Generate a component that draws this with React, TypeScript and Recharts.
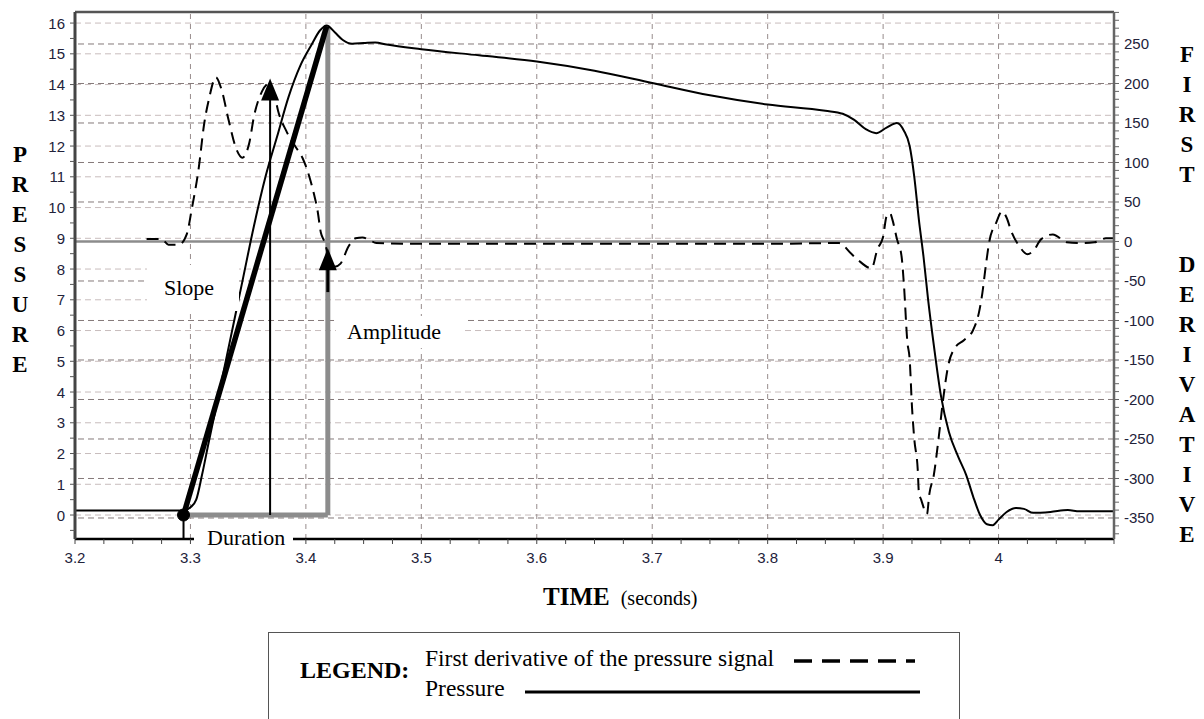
import React from "react";
import {
  ComposedChart,
  Line,
  XAxis,
  YAxis,
  ReferenceLine,
  ReferenceDot,
} from "recharts";

// pressure trace (time in s, pressure)
const pressureTime = [
  3.2, 3.25, 3.29, 3.295, 3.3, 3.305, 3.31, 3.316, 3.325, 3.335, 3.345, 3.355,
  3.365, 3.375, 3.385, 3.395, 3.405, 3.412, 3.418, 3.425, 3.432, 3.44, 3.45,
  3.46, 3.47, 3.5, 3.55, 3.6, 3.65, 3.7, 3.75, 3.8, 3.85, 3.865, 3.875, 3.885,
  3.894, 3.903, 3.912, 3.918, 3.923, 3.927, 3.931, 3.935, 3.939, 3.944, 3.95,
  3.957, 3.965, 3.972, 3.978, 3.984, 3.99, 3.995, 4.0, 4.007, 4.015, 4.022,
  4.03, 4.045, 4.06, 4.07, 4.1,
];
const pressureValue = [
  0.15, 0.15, 0.15, 0.15, 0.25, 0.5, 1.3, 2.4, 4.0, 5.8, 7.6, 9.4, 11.0, 12.3,
  13.6, 14.6, 15.3, 15.75, 15.92, 15.7, 15.45, 15.33, 15.35, 15.37, 15.3, 15.15,
  14.95, 14.75, 14.45, 14.05, 13.65, 13.35, 13.15, 13.05, 12.85, 12.55, 12.42,
  12.6, 12.75, 12.5, 12.0, 11.0, 9.6, 8.4, 7.0, 5.5, 3.9, 2.7, 1.9, 1.3, 0.6,
  0.0, -0.3, -0.33, -0.15, 0.1, 0.23, 0.2, 0.07, 0.1, 0.16, 0.12, 0.12,
];

// first derivative trace (time in s, derivative)
const derivTime = [
  3.262, 3.275, 3.281, 3.29, 3.297, 3.301, 3.307, 3.312, 3.316, 3.322, 3.327,
  3.333, 3.34, 3.345, 3.351, 3.355, 3.362, 3.368, 3.373, 3.376, 3.383, 3.391,
  3.397, 3.403, 3.407, 3.41, 3.413, 3.416, 3.42, 3.425, 3.43, 3.437, 3.443,
  3.449, 3.455, 3.461, 3.5, 3.6, 3.7, 3.8, 3.862, 3.872, 3.878, 3.89, 3.895,
  3.9, 3.903, 3.906, 3.908, 3.912, 3.916, 3.918, 3.921, 3.923, 3.925, 3.927,
  3.93, 3.931, 3.933, 3.938, 3.94, 3.944, 3.948, 3.952, 3.956, 3.962, 3.97,
  3.978, 3.983, 3.986, 3.989, 3.992, 3.998, 4.003, 4.007, 4.011, 4.018, 4.025,
  4.03, 4.037, 4.047, 4.059, 4.07, 4.083, 4.093, 4.1,
];
const derivValue = [
  3, 3, -4, -4, 10, 40, 91, 150, 180, 208, 192, 154, 116, 106, 125, 158, 190,
  200, 184, 165, 140, 120, 106, 82, 60, 40, 11, 0, -20, -32, -28, -6, 4, 5, 2,
  -2, -3, -3, -3, -3, -2, -15, -23, -34, -10, 6, 32, 36, 28, 3, -19, -54, -127,
  -149, -209, -250, -289, -318, -327, -345, -320, -295, -250, -200, -160, -135,
  -125, -112, -90, -65, -30, 0, 24, 38, 30, 13, -6, -16, -12, 3, 9, -1, -2, -1,
  4, 4,
];

// axis ranges and tick labels
const timeDomain = [3.2, 4.1];
const pressureDomain = [-0.78, 16.36];
const derivDomain = [-376.6, 290.5];
const timeLabels = [3.2, 3.3, 3.4, 3.5, 3.6, 3.7, 3.8, 3.9, 4.0];
const pressureLabels = [0, 1, 2, 3, 4, 5, 6, 7, 8, 9, 10, 11, 12, 13, 14, 15, 16];
const derivLabels = [-350, -300, -250, -200, -150, -100, -50, 0, 50, 100, 150, 200, 250];

// annotation points (time, pressure)
const slopeStart = { t: 3.294, p: 0 };
const slopeEnd = { t: 3.418, p: 15.9 };
const slopeArrow = { t: 3.369, p: 14.2, base: 0 };
const amplitudeLine = { t: 3.419, p: 15.85 };
const amplitudeArrow = { t: 3.419, p: 8.68, tail: 7.25 };
const durationStart = 3.297;

const xMinorTicks: number[] = [];
for (let i = 0; i <= 36; i++) xMinorTicks.push(+(3.2 + i * 0.025).toFixed(3));
const pMinorTicks: number[] = [];
for (let i = -1; i <= 32; i++) pMinorTicks.push(i * 0.5);
const dMinorTicks: number[] = [];
for (let v = -370; v <= 290; v += 10) dMinorTicks.push(v);

const pressureData = pressureTime.map((t, i) => ({ t, p: pressureValue[i] }));
const derivData = derivTime.map((t, i) => ({ t, d: derivValue[i] }));

const sans = "'Liberation Sans', Arial, sans-serif";
const serif = "'Liberation Serif', 'Times New Roman', serif";
const tickColor = "#22223a";

const TimeTick = (props: any) => {
  const { x, y, payload } = props;
  const v = payload.value;
  if (!timeLabels.some((l) => Math.abs(l - v) < 1e-6)) return <g />;
  return (
    <text x={x} y={y + 4} textAnchor="middle" dominantBaseline="hanging" fontFamily={sans} fontSize={15} fill={tickColor}>
      {String(+v.toFixed(1))}
    </text>
  );
};

const PressureTick = (props: any) => {
  const { x, y, payload } = props;
  if (!pressureLabels.includes(payload.value)) return <g />;
  return (
    <text x={x - 3} y={y} textAnchor="end" dominantBaseline="central" fontFamily={sans} fontSize={15} fill={tickColor}>
      {payload.value}
    </text>
  );
};

const DerivTick = (props: any) => {
  const { x, y, payload } = props;
  if (!derivLabels.includes(payload.value)) return <g />;
  return (
    <text x={x + 3} y={y} textAnchor="start" dominantBaseline="central" fontFamily={sans} fontSize={15} fill={tickColor}>
      {payload.value}
    </text>
  );
};

const UpArrow = (props: any) => {
  const { cx, cy } = props;
  return <polygon points={`${cx},${cy} ${cx - 9},${cy + 22} ${cx + 9},${cy + 22}`} fill="#000" />;
};

const Letters = ({ text, x, y }: { text: string; x: number; y: number }) => (
  <div
    style={{
      position: "absolute",
      left: x,
      top: y,
      width: 30,
      textAlign: "center",
      fontFamily: serif,
      fontWeight: "bold",
      fontSize: 23,
      lineHeight: "30px",
      color: "#000",
    }}
  >
    {text.split("").map((c, i) => (
      <div key={i} style={{ height: 30 }}>{c === " " ? "\u00a0" : c}</div>
    ))}
  </div>
);

export default function App() {
  return (
    <div style={{ position: "absolute", left: 0, top: 0, width: 1204, height: 719, background: "#fff", overflow: "hidden" }}>
      <ComposedChart
        width={1204}
        height={719}
        margin={{ top: 12, right: 30, bottom: 150, left: 25 }}
      >
        <XAxis
          xAxisId="t"
          type="number"
          dataKey="t"
          domain={timeDomain}
          allowDataOverflow
          ticks={xMinorTicks}
          interval={0}
          tick={TimeTick}
          tickSize={5}
          tickMargin={4}
          height={30}
          axisLine={{ stroke: "#000", strokeWidth: 2.5 }}
          tickLine={{ stroke: "#444" }}
        />
        <YAxis
          yAxisId="p"
          type="number"
          domain={pressureDomain}
          allowDataOverflow
          ticks={pMinorTicks}
          interval={0}
          tick={PressureTick}
          tickSize={5}
          tickMargin={2}
          width={50}
          axisLine={{ stroke: "#444", strokeWidth: 3 }}
          tickLine={{ stroke: "#555" }}
        />
        <YAxis
          yAxisId="d"
          orientation="right"
          type="number"
          domain={derivDomain}
          allowDataOverflow
          ticks={dMinorTicks}
          interval={0}
          tick={DerivTick}
          tickSize={5}
          tickMargin={2}
          width={60}
          axisLine={{ stroke: "#666", strokeWidth: 2.5 }}
          tickLine={{ stroke: "#666" }}
        />

        {/* grid: light for pressure, darker for derivative, vertical at time labels */}
        {pressureLabels.map((v) => (
          <ReferenceLine key={"gp" + v} xAxisId="t" yAxisId="p" y={v} stroke="#c8bcbc" strokeDasharray="6 4" />
        ))}
        {derivLabels
          .filter((v) => v !== 0)
          .map((v) => (
            <ReferenceLine key={"gd" + v} xAxisId="t" yAxisId="d" y={v} stroke="#857a7a" strokeDasharray="6 4" />
          ))}
        {timeLabels
          .filter((v) => v !== 3.2)
          .map((v) => (
            <ReferenceLine key={"gt" + v} xAxisId="t" yAxisId="p" x={v} stroke="#978c8c" strokeDasharray="5 5" />
          ))}
        <ReferenceLine xAxisId="t" yAxisId="p" y={pressureDomain[1]} stroke="#555" strokeWidth={2.5} />
        <ReferenceLine xAxisId="t" yAxisId="d" y={0} stroke="#8c8c8c" strokeWidth={2.5} />

        {/* duration / amplitude markers */}
        <ReferenceLine
          xAxisId="t"
          yAxisId="p"
          segment={[{ x: durationStart, y: 0 }, { x: amplitudeLine.t, y: 0 }]}
          stroke="#8c8c8c"
          strokeWidth={5}
        />
        <ReferenceLine
          xAxisId="t"
          yAxisId="p"
          segment={[{ x: amplitudeLine.t, y: 0 }, { x: amplitudeLine.t, y: amplitudeLine.p }]}
          stroke="#8c8c8c"
          strokeWidth={5}
        />

        <Line
          xAxisId="t"
          yAxisId="d"
          data={derivData}
          dataKey="d"
          type="monotone"
          stroke="#000"
          strokeWidth={2}
          strokeDasharray="12 7"
          dot={false}
          isAnimationActive={false}
        />
        <Line
          xAxisId="t"
          yAxisId="p"
          data={pressureData}
          dataKey="p"
          type="monotone"
          stroke="#000"
          strokeWidth={2}
          dot={false}
          isAnimationActive={false}
        />

        {/* slope line and arrows */}
        <ReferenceLine
          xAxisId="t"
          yAxisId="p"
          segment={[{ x: slopeStart.t, y: slopeStart.p }, { x: slopeEnd.t, y: slopeEnd.p }]}
          stroke="#000"
          strokeWidth={5.5}
        />
        <ReferenceLine
          xAxisId="t"
          yAxisId="p"
          segment={[{ x: slopeArrow.t, y: slopeArrow.base }, { x: slopeArrow.t, y: slopeArrow.p - 0.5 }]}
          stroke="#000"
          strokeWidth={2}
        />
        <ReferenceDot xAxisId="t" yAxisId="p" x={slopeArrow.t} y={slopeArrow.p} shape={UpArrow} />
        <ReferenceLine
          xAxisId="t"
          yAxisId="p"
          segment={[{ x: amplitudeArrow.t, y: amplitudeArrow.tail }, { x: amplitudeArrow.t, y: amplitudeArrow.p - 0.5 }]}
          stroke="#000"
          strokeWidth={3}
        />
        <ReferenceDot xAxisId="t" yAxisId="p" x={amplitudeArrow.t} y={amplitudeArrow.p} shape={UpArrow} />
        <ReferenceLine
          xAxisId="t"
          yAxisId="p"
          segment={[{ x: slopeStart.t, y: slopeStart.p }, { x: slopeStart.t, y: pressureDomain[0] }]}
          stroke="#000"
          strokeWidth={2}
          ifOverflow="visible"
        />
        <ReferenceDot xAxisId="t" yAxisId="p" x={slopeStart.t} y={slopeStart.p} r={6} fill="#000" stroke="#000" />
      </ComposedChart>

      {/* in-plot labels */}
      <div style={{ position: "absolute", left: 147, top: 265, width: 92, height: 46, background: "#fff", fontFamily: serif, fontSize: 22, lineHeight: "46px", paddingLeft: 17, boxSizing: "border-box" }}>
        Slope
      </div>
      <div style={{ position: "absolute", left: 336, top: 316, width: 128, height: 32, background: "#fff", fontFamily: serif, fontSize: 22, lineHeight: "32px", paddingLeft: 11, boxSizing: "border-box" }}>
        Amplitude
      </div>
      <div style={{ position: "absolute", left: 194, top: 525, width: 99, height: 25, background: "#fff", fontFamily: serif, fontSize: 22, lineHeight: "25px", paddingLeft: 13, boxSizing: "border-box" }}>
        Duration
      </div>

      {/* axis titles */}
      <Letters text="PRESSURE" x={5} y={140} />
      <Letters text="FIRST  DERIVATIVE" x={1172} y={40} />
      <div style={{ position: "absolute", left: 543, top: 582, lineHeight: "30px", whiteSpace: "nowrap", fontFamily: serif, color: "#000" }}>
        <span style={{ fontWeight: "bold", fontSize: 25 }}>TIME</span>
        <span style={{ fontSize: 20, marginLeft: 11 }}>(seconds)</span>
      </div>

      {/* legend box */}
      <div style={{ position: "absolute", left: 268, top: 632, width: 692, height: 120, border: "1.5px solid #555", boxSizing: "border-box", fontFamily: serif, color: "#000" }}>
        <div style={{ position: "absolute", left: 31, top: 24, fontWeight: "bold", fontSize: 24, whiteSpace: "nowrap" }}>LEGEND:</div>
        <div style={{ position: "absolute", left: 156, top: 12, fontSize: 23.5, whiteSpace: "nowrap" }}>First derivative of the pressure signal</div>
        <div style={{ position: "absolute", left: 156, top: 42, fontSize: 23.5 }}>Pressure</div>
        <svg style={{ position: "absolute", left: 0, top: 0 }} width={692} height={100}>
          <line x1={525} y1={28} x2={646} y2={28} stroke="#000" strokeWidth={3.5} strokeDasharray="18 10" />
          <line x1={256} y1={59} x2={651} y2={59} stroke="#000" strokeWidth={3} />
        </svg>
      </div>
    </div>
  );
}
